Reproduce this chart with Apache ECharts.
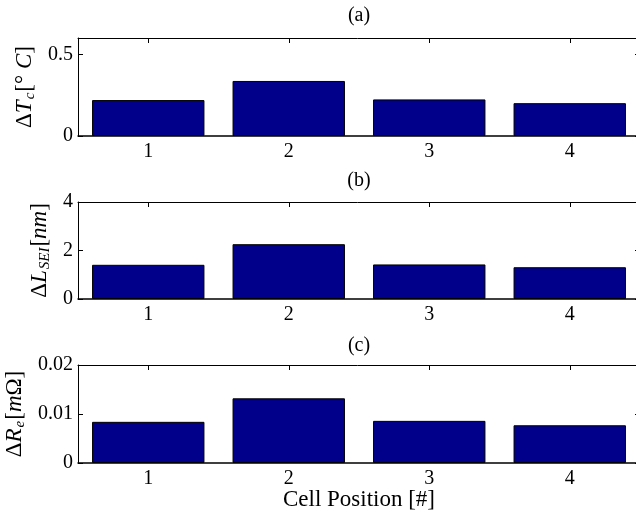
<!DOCTYPE html>
<html>
<head>
<meta charset="utf-8">
<script src="https://cdn.jsdelivr.net/npm/echarts@6/dist/echarts.min.js"></script>
<style>html,body{margin:0;padding:0;background:#fff;}#c{width:636px;height:517px;}</style>
</head>
<body>
<div id="c"></div>
<script>
var categories = ['1', '2', '3', '4'];
var tempRise = [0.220, 0.337, 0.224, 0.201];
var seiGrowth = [1.41, 2.26, 1.425, 1.31];
var resistanceRise = [0.0084, 0.0132, 0.0086, 0.0077];
var panelTitles = ['(a)', '(b)', '(c)'];
var xTitle = 'Cell Position [#]';

var FONT = '"Liberation Serif", "DejaVu Serif", serif';
var chart = echarts.init(document.getElementById('c'), null, {renderer: 'canvas'});

var grids = [
  {left: 78, right: -4, top: 38, height: 98, containLabel: false, outerBoundsMode: 'none'},
  {left: 78, right: -4, top: 202, height: 97, containLabel: false, outerBoundsMode: 'none'},
  {left: 78, right: -4, top: 365, height: 98, containLabel: false, outerBoundsMode: 'none'}
];
var yConf = [
  {min: 0, max: 0.6, interval: 0.5, showMax: false, gap: 29,
   name: '{n|Δ}{i|T}{s|c}{n|[° }{i|C}{n|]}'},
  {min: 0, max: 4, interval: 2, showMax: true, gap: 10,
   name: '{n|Δ}{i|L}{s|SEI}{n|[}{i|nm}{n|]}'},
  {min: 0, max: 0.02, interval: 0.01, showMax: true, gap: 34,
   name: '{n|Δ}{i|R}{s|e}{n|[}{i|m}{n|Ω]}'}
];
var seriesData = [tempRise, seiGrowth, resistanceRise];

var rich = {
  n: {fontFamily: FONT, fontSize: 23, color: '#000'},
  i: {fontFamily: FONT, fontSize: 23, fontStyle: 'italic', color: '#000'},
  s: {fontFamily: FONT, fontSize: 15, fontStyle: 'italic', color: '#000', verticalAlign: 'bottom', padding: [9, 1, 0, 1]}
};

var xAxes = [], yAxes = [], series = [], graphics = [];
grids.forEach(function (g, k) {
  xAxes.push({
    type: 'category', gridIndex: k, data: categories, position: 'bottom',
    boundaryGap: true,
    axisLine: {show: true, onZero: false, lineStyle: {color: '#000', width: 1.5}},
    axisTick: {show: true, inside: true, alignWithLabel: true, length: 5, lineStyle: {color: '#000'}},
    axisLabel: {color: '#000', fontFamily: FONT, fontSize: 20, margin: 6}
  });
  xAxes.push({
    type: 'category', gridIndex: k, data: categories, position: 'top',
    boundaryGap: true,
    axisLine: {show: true, onZero: false, lineStyle: {color: '#000', width: 1}},
    axisTick: {show: true, inside: true, alignWithLabel: true, length: 5, lineStyle: {color: '#000'}},
    axisLabel: {show: false}
  });
  var yc = yConf[k];
  yAxes.push({
    type: 'value', gridIndex: k, position: 'left',
    min: yc.min, max: yc.max, interval: yc.interval,
    splitLine: {show: false},
    axisLine: {show: true, onZero: false, lineStyle: {color: '#000', width: 1}},
    axisTick: {show: true, inside: true, length: 5, lineStyle: {color: '#000'}},
    axisLabel: {color: '#000', fontFamily: FONT, fontSize: 20, margin: 5, showMaxLabel: yc.showMax},
    name: yc.name, nameLocation: 'middle', nameRotate: 90, nameGap: yc.gap,
    nameTextStyle: {rich: rich}
  });
  yAxes.push({
    type: 'value', gridIndex: k, position: 'right',
    min: yc.min, max: yc.max, interval: yc.interval,
    splitLine: {show: false},
    axisLine: {show: true, onZero: false, lineStyle: {color: '#000', width: 1}},
    axisTick: {show: true, inside: true, length: 5, lineStyle: {color: '#000'}},
    axisLabel: {show: false}
  });
  series.push({
    type: 'bar', xAxisIndex: 2 * k, yAxisIndex: 2 * k,
    data: seriesData[k], barWidth: '80%',
    itemStyle: {color: '#00008B', borderColor: '#000', borderWidth: 1},
    silent: true
  });
});

var titleY = [16, 181, 346];
titleY.forEach(function (y, k) {
  graphics.push({type: 'text', x: 359, y: y, style: {text: panelTitles[k], font: '20px ' + FONT, fill: '#000', textAlign: 'center', textVerticalAlign: 'middle'}});
});
graphics.push({type: 'text', x: 359, y: 500, style: {text: xTitle, font: '23px ' + FONT, fill: '#000', textAlign: 'center', textVerticalAlign: 'middle'}});

chart.setOption({
  animation: false,
  backgroundColor: '#fff',
  grid: grids,
  xAxis: xAxes,
  yAxis: yAxes,
  series: series,
  graphic: graphics
});
</script>
</body>
</html>
